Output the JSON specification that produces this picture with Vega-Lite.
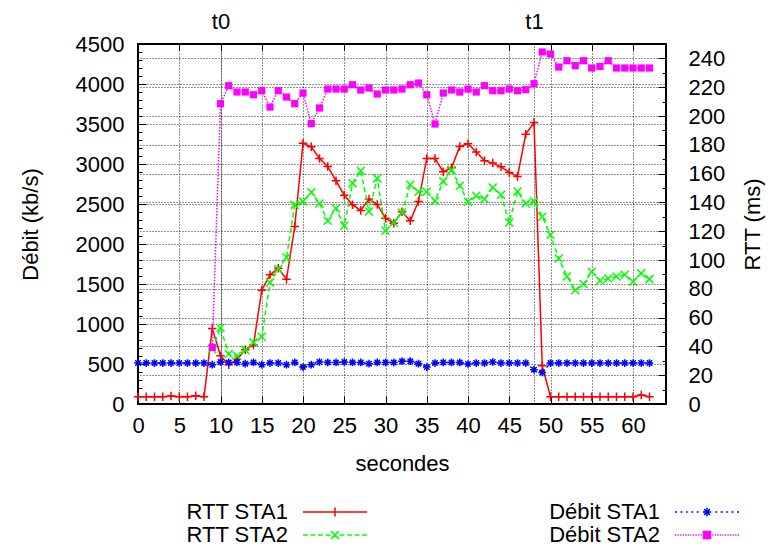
{
  "$schema": "https://vega.github.io/schema/vega-lite/v6.json",
  "width": 528,
  "height": 360,
  "autosize": {"type": "none"},
  "padding": {"left": 138, "top": 44, "right": 114, "bottom": 148},
  "background": "white",
  "datasets": {
    "d": [
      {"t":0,"s":"RTT STA1","v":5},{"t":1,"s":"RTT STA1","v":5},{"t":2,"s":"RTT STA1","v":5},{"t":3,"s":"RTT STA1","v":5},{"t":4,"s":"RTT STA1","v":5.5},{"t":5,"s":"RTT STA1","v":5},{"t":6,"s":"RTT STA1","v":5},{"t":7,"s":"RTT STA1","v":5.7},{"t":8,"s":"RTT STA1","v":5},{"t":9,"s":"RTT STA1","v":52.5},{"t":10,"s":"RTT STA1","v":33.5},{"t":11,"s":"RTT STA1","v":27.2},{"t":12,"s":"RTT STA1","v":31},{"t":13,"s":"RTT STA1","v":37.7},{"t":14,"s":"RTT STA1","v":41},{"t":15,"s":"RTT STA1","v":79},{"t":16,"s":"RTT STA1","v":89.7},{"t":17,"s":"RTT STA1","v":94.2},{"t":18,"s":"RTT STA1","v":86.7},{"t":19,"s":"RTT STA1","v":123.3},{"t":20,"s":"RTT STA1","v":181},{"t":21,"s":"RTT STA1","v":178.6},{"t":22,"s":"RTT STA1","v":170.5},{"t":23,"s":"RTT STA1","v":165},{"t":24,"s":"RTT STA1","v":155},{"t":25,"s":"RTT STA1","v":145},{"t":26,"s":"RTT STA1","v":138.3},{"t":27,"s":"RTT STA1","v":134.4},{"t":28,"s":"RTT STA1","v":142.3},{"t":29,"s":"RTT STA1","v":138.6},{"t":30,"s":"RTT STA1","v":129},{"t":31,"s":"RTT STA1","v":125.6},{"t":32,"s":"RTT STA1","v":133.5},{"t":33,"s":"RTT STA1","v":127.2},{"t":34,"s":"RTT STA1","v":140.7},{"t":35,"s":"RTT STA1","v":170.5},{"t":36,"s":"RTT STA1","v":170.5},{"t":37,"s":"RTT STA1","v":161.3},{"t":38,"s":"RTT STA1","v":164},{"t":39,"s":"RTT STA1","v":178.9},{"t":40,"s":"RTT STA1","v":180.7},{"t":41,"s":"RTT STA1","v":175},{"t":42,"s":"RTT STA1","v":169},{"t":43,"s":"RTT STA1","v":167.3},{"t":44,"s":"RTT STA1","v":164.7},{"t":45,"s":"RTT STA1","v":160.8},{"t":46,"s":"RTT STA1","v":158},{"t":47,"s":"RTT STA1","v":187.4},{"t":48,"s":"RTT STA1","v":195.5},{"t":49,"s":"RTT STA1","v":26.5},{"t":50,"s":"RTT STA1","v":5},{"t":51,"s":"RTT STA1","v":5},{"t":52,"s":"RTT STA1","v":5},{"t":53,"s":"RTT STA1","v":5},{"t":54,"s":"RTT STA1","v":5},{"t":55,"s":"RTT STA1","v":5},{"t":56,"s":"RTT STA1","v":5},{"t":57,"s":"RTT STA1","v":5},{"t":58,"s":"RTT STA1","v":5},{"t":59,"s":"RTT STA1","v":5},{"t":60,"s":"RTT STA1","v":5},{"t":61,"s":"RTT STA1","v":6.2},{"t":62,"s":"RTT STA1","v":5},
      {"t":9,"s":"RTT STA2","v":38},{"t":10,"s":"RTT STA2","v":53},{"t":11,"s":"RTT STA2","v":34.7},{"t":12,"s":"RTT STA2","v":33.5},{"t":13,"s":"RTT STA2","v":37.4},{"t":14,"s":"RTT STA2","v":42.8},{"t":15,"s":"RTT STA2","v":46.7},{"t":16,"s":"RTT STA2","v":84.4},{"t":17,"s":"RTT STA2","v":93.7},{"t":18,"s":"RTT STA2","v":101.8},{"t":19,"s":"RTT STA2","v":138.3},{"t":20,"s":"RTT STA2","v":140.7},{"t":21,"s":"RTT STA2","v":147},{"t":22,"s":"RTT STA2","v":139.3},{"t":23,"s":"RTT STA2","v":127.2},{"t":24,"s":"RTT STA2","v":135.8},{"t":25,"s":"RTT STA2","v":123.8},{"t":26,"s":"RTT STA2","v":153.2},{"t":27,"s":"RTT STA2","v":162},{"t":28,"s":"RTT STA2","v":133.7},{"t":29,"s":"RTT STA2","v":156.7},{"t":30,"s":"RTT STA2","v":120.3},{"t":31,"s":"RTT STA2","v":126.1},{"t":32,"s":"RTT STA2","v":133},{"t":33,"s":"RTT STA2","v":152.2},{"t":34,"s":"RTT STA2","v":147.4},{"t":35,"s":"RTT STA2","v":147.4},{"t":36,"s":"RTT STA2","v":141},{"t":37,"s":"RTT STA2","v":154.6},{"t":38,"s":"RTT STA2","v":162.6},{"t":39,"s":"RTT STA2","v":151.5},{"t":40,"s":"RTT STA2","v":140.4},{"t":41,"s":"RTT STA2","v":144.6},{"t":42,"s":"RTT STA2","v":142.3},{"t":43,"s":"RTT STA2","v":150.4},{"t":44,"s":"RTT STA2","v":145.3},{"t":45,"s":"RTT STA2","v":126.1},{"t":46,"s":"RTT STA2","v":147.6},{"t":47,"s":"RTT STA2","v":139.3},{"t":48,"s":"RTT STA2","v":140.7},{"t":49,"s":"RTT STA2","v":130},{"t":50,"s":"RTT STA2","v":117.5},{"t":51,"s":"RTT STA2","v":101},{"t":52,"s":"RTT STA2","v":88.6},{"t":53,"s":"RTT STA2","v":79},{"t":54,"s":"RTT STA2","v":83.3},{"t":55,"s":"RTT STA2","v":91.8},{"t":56,"s":"RTT STA2","v":85.6},{"t":57,"s":"RTT STA2","v":87.2},{"t":58,"s":"RTT STA2","v":88.6},{"t":59,"s":"RTT STA2","v":89.7},{"t":60,"s":"RTT STA2","v":84.9},{"t":61,"s":"RTT STA2","v":90.7},{"t":62,"s":"RTT STA2","v":86.7},
      {"t":0,"s":"Débit STA1","v":512},{"t":1,"s":"Débit STA1","v":512},{"t":2,"s":"Débit STA1","v":512},{"t":3,"s":"Débit STA1","v":512},{"t":4,"s":"Débit STA1","v":512},{"t":5,"s":"Débit STA1","v":512},{"t":6,"s":"Débit STA1","v":512},{"t":7,"s":"Débit STA1","v":512},{"t":8,"s":"Débit STA1","v":512},{"t":9,"s":"Débit STA1","v":491},{"t":10,"s":"Débit STA1","v":525},{"t":11,"s":"Débit STA1","v":520},{"t":12,"s":"Débit STA1","v":520},{"t":13,"s":"Débit STA1","v":504},{"t":14,"s":"Débit STA1","v":520},{"t":15,"s":"Débit STA1","v":491},{"t":16,"s":"Débit STA1","v":512},{"t":17,"s":"Débit STA1","v":512},{"t":18,"s":"Débit STA1","v":491},{"t":19,"s":"Débit STA1","v":520},{"t":20,"s":"Débit STA1","v":462},{"t":21,"s":"Débit STA1","v":491},{"t":22,"s":"Débit STA1","v":525},{"t":23,"s":"Débit STA1","v":520},{"t":24,"s":"Débit STA1","v":520},{"t":25,"s":"Débit STA1","v":525},{"t":26,"s":"Débit STA1","v":520},{"t":27,"s":"Débit STA1","v":520},{"t":28,"s":"Débit STA1","v":504},{"t":29,"s":"Débit STA1","v":520},{"t":30,"s":"Débit STA1","v":520},{"t":31,"s":"Débit STA1","v":520},{"t":32,"s":"Débit STA1","v":535},{"t":33,"s":"Débit STA1","v":535},{"t":34,"s":"Débit STA1","v":504},{"t":35,"s":"Débit STA1","v":462},{"t":36,"s":"Débit STA1","v":512},{"t":37,"s":"Débit STA1","v":520},{"t":38,"s":"Débit STA1","v":520},{"t":39,"s":"Débit STA1","v":520},{"t":40,"s":"Débit STA1","v":500},{"t":41,"s":"Débit STA1","v":512},{"t":42,"s":"Débit STA1","v":512},{"t":43,"s":"Débit STA1","v":525},{"t":44,"s":"Débit STA1","v":512},{"t":45,"s":"Débit STA1","v":512},{"t":46,"s":"Débit STA1","v":512},{"t":47,"s":"Débit STA1","v":512},{"t":48,"s":"Débit STA1","v":429},{"t":49,"s":"Débit STA1","v":395},{"t":50,"s":"Débit STA1","v":512},{"t":51,"s":"Débit STA1","v":512},{"t":52,"s":"Débit STA1","v":512},{"t":53,"s":"Débit STA1","v":512},{"t":54,"s":"Débit STA1","v":512},{"t":55,"s":"Débit STA1","v":512},{"t":56,"s":"Débit STA1","v":512},{"t":57,"s":"Débit STA1","v":512},{"t":58,"s":"Débit STA1","v":512},{"t":59,"s":"Débit STA1","v":512},{"t":60,"s":"Débit STA1","v":512},{"t":61,"s":"Débit STA1","v":512},{"t":62,"s":"Débit STA1","v":512},
      {"t":9,"s":"Débit STA2","v":708},{"t":10,"s":"Débit STA2","v":3754},{"t":11,"s":"Débit STA2","v":3979},{"t":12,"s":"Débit STA2","v":3900},{"t":13,"s":"Débit STA2","v":3900},{"t":14,"s":"Débit STA2","v":3866},{"t":15,"s":"Débit STA2","v":3916},{"t":16,"s":"Débit STA2","v":3712},{"t":17,"s":"Débit STA2","v":3916},{"t":18,"s":"Débit STA2","v":3837},{"t":19,"s":"Débit STA2","v":3754},{"t":20,"s":"Débit STA2","v":3887},{"t":21,"s":"Débit STA2","v":3504},{"t":22,"s":"Débit STA2","v":3700},{"t":23,"s":"Débit STA2","v":3937},{"t":24,"s":"Débit STA2","v":3937},{"t":25,"s":"Débit STA2","v":3937},{"t":26,"s":"Débit STA2","v":3991},{"t":27,"s":"Débit STA2","v":3925},{"t":28,"s":"Débit STA2","v":3950},{"t":29,"s":"Débit STA2","v":3875},{"t":30,"s":"Débit STA2","v":3925},{"t":31,"s":"Débit STA2","v":3925},{"t":32,"s":"Débit STA2","v":3937},{"t":33,"s":"Débit STA2","v":3991},{"t":34,"s":"Débit STA2","v":4012},{"t":35,"s":"Débit STA2","v":3866},{"t":36,"s":"Débit STA2","v":3500},{"t":37,"s":"Débit STA2","v":3887},{"t":38,"s":"Débit STA2","v":3925},{"t":39,"s":"Débit STA2","v":3900},{"t":40,"s":"Débit STA2","v":3937},{"t":41,"s":"Débit STA2","v":3900},{"t":42,"s":"Débit STA2","v":3979},{"t":43,"s":"Débit STA2","v":3916},{"t":44,"s":"Débit STA2","v":3916},{"t":45,"s":"Débit STA2","v":3937},{"t":46,"s":"Débit STA2","v":3916},{"t":47,"s":"Débit STA2","v":3929},{"t":48,"s":"Débit STA2","v":4004},{"t":49,"s":"Débit STA2","v":4400},{"t":50,"s":"Débit STA2","v":4375},{"t":51,"s":"Débit STA2","v":4212},{"t":52,"s":"Débit STA2","v":4291},{"t":53,"s":"Débit STA2","v":4229},{"t":54,"s":"Débit STA2","v":4291},{"t":55,"s":"Débit STA2","v":4200},{"t":56,"s":"Débit STA2","v":4220},{"t":57,"s":"Débit STA2","v":4291},{"t":58,"s":"Débit STA2","v":4200},{"t":59,"s":"Débit STA2","v":4200},{"t":60,"s":"Débit STA2","v":4200},{"t":61,"s":"Débit STA2","v":4200},{"t":62,"s":"Débit STA2","v":4200}
    ]
  },
  "data": {"name": "d"},
  "layer": [
    {
      "layer": [
        {
          "transform": [{"filter": "datum.s == 'RTT STA1'"}],
          "mark": {"type": "line", "color": "#ff0000", "strokeWidth": 1.5},
          "encoding": {
            "x": {"field": "t", "type": "quantitative", "scale": {"domain": [0, 64], "nice": false, "zero": false},
              "axis": {"orient": "bottom", "values": [0,5,10,15,20,25,30,35,40,45,50,55,60], "format": "d", "grid": true, "ticks": true, "tickSize": -8, "labelPadding": 19, "title": "secondes", "titleY": 59, "titleBaseline": "middle", "titleAlign": "center"}},
            "y": {"field": "v", "type": "quantitative", "scale": {"domain": [0, 250], "nice": false},
              "axis": {"orient": "right", "values": [0,20,40,60,80,100,120,140,160,180,200,220,240], "format": "d", "grid": true, "ticks": true, "tickSize": -8, "labelPadding": 30, "title": "RTT (ms)", "titleAngle": 270, "titleX": 86, "titleY": 180, "titleAlign": "center", "titleBaseline": "middle"}}
          }
        },
        {
          "transform": [{"filter": "datum.s == 'RTT STA1'"}],
          "mark": {"type": "point", "shape": "M-1,0H1M0,-1V1", "size": 72, "filled": false, "color": "#ff0000", "strokeWidth": 1.5, "opacity": 1},
          "encoding": {
            "x": {"field": "t", "type": "quantitative", "scale": {"domain": [0, 64], "nice": false, "zero": false},
              "axis": {"orient": "top", "values": [0,5,10,15,20,25,30,35,40,45,50,55,60], "labels": false, "grid": false, "ticks": true, "tickSize": -6, "title": null}},
            "y": {"field": "v", "type": "quantitative", "scale": {"domain": [0, 250], "nice": false},
              "axis": {"orient": "right", "values": [0,10,20,30,40,50,60,70,80,90,100,110,120,130,140,150,160,170,180,190,200,210,220,230,240,250], "labels": false, "grid": false, "ticks": true, "tickSize": -4, "title": null}}
          }
        },
        {
          "transform": [{"filter": "datum.s == 'RTT STA2'"}],
          "mark": {"type": "line", "color": "#00ff00", "strokeWidth": 1.5, "strokeDash": [5, 3]},
          "encoding": {
            "x": {"field": "t", "type": "quantitative", "scale": {"domain": [0, 64], "nice": false, "zero": false}, "axis": null},
            "y": {"field": "v", "type": "quantitative", "scale": {"domain": [0, 250], "nice": false}, "axis": null}
          }
        },
        {
          "transform": [{"filter": "datum.s == 'RTT STA2'"}],
          "mark": {"type": "point", "shape": "M-1,-1L1,1M-1,1L1,-1", "size": 64, "filled": false, "color": "#00ff00", "strokeWidth": 1.5, "opacity": 1},
          "encoding": {
            "x": {"field": "t", "type": "quantitative", "scale": {"domain": [0, 64], "nice": false, "zero": false}, "axis": null},
            "y": {"field": "v", "type": "quantitative", "scale": {"domain": [0, 250], "nice": false}, "axis": null}
          }
        }
      ],
      "resolve": {"axis": {"x": "independent", "y": "independent"}}
    },
    {
      "layer": [
        {
          "transform": [{"filter": "datum.s == 'Débit STA1'"}],
          "mark": {"type": "line", "color": "#0000ff", "strokeWidth": 1.5, "strokeDash": [2, 3]},
          "encoding": {
            "x": {"field": "t", "type": "quantitative", "scale": {"domain": [0, 64], "nice": false, "zero": false}, "axis": null},
            "y": {"field": "v", "type": "quantitative", "scale": {"domain": [0, 4500], "nice": false},
              "axis": {"orient": "left", "values": [0,500,1000,1500,2000,2500,3000,3500,4000,4500], "format": "d", "grid": true, "ticks": true, "tickSize": -8, "labelPadding": 22, "title": "Débit (kb/s)", "titleAngle": 270, "titleX": -108, "titleY": 180, "titleAlign": "center", "titleBaseline": "middle"}}
          }
        },
        {
          "transform": [{"filter": "datum.s == 'Débit STA1'"}],
          "mark": {"type": "point", "shape": "M-1,0H1M0,-1V1M-0.7,-0.7L0.7,0.7M-0.7,0.7L0.7,-0.7", "size": 60, "filled": false, "color": "#0000ff", "strokeWidth": 1.5, "opacity": 1},
          "encoding": {
            "x": {"field": "t", "type": "quantitative", "scale": {"domain": [0, 64], "nice": false, "zero": false}, "axis": null},
            "y": {"field": "v", "type": "quantitative", "scale": {"domain": [0, 4500], "nice": false},
              "axis": {"orient": "left", "values": [0,100,200,300,400,500,600,700,800,900,1000,1100,1200,1300,1400,1500,1600,1700,1800,1900,2000,2100,2200,2300,2400,2500,2600,2700,2800,2900,3000,3100,3200,3300,3400,3500,3600,3700,3800,3900,4000,4100,4200,4300,4400,4500], "labels": false, "grid": false, "ticks": true, "tickSize": -4, "title": null}}
          }
        },
        {
          "transform": [{"filter": "datum.s == 'Débit STA2'"}],
          "mark": {"type": "line", "color": "#ff00ff", "strokeWidth": 1.5, "strokeDash": [1.5, 1.5]},
          "encoding": {
            "x": {"field": "t", "type": "quantitative", "scale": {"domain": [0, 64], "nice": false, "zero": false}, "axis": null},
            "y": {"field": "v", "type": "quantitative", "scale": {"domain": [0, 4500], "nice": false}, "axis": null}
          }
        },
        {
          "transform": [{"filter": "datum.s == 'Débit STA2'"}],
          "mark": {"type": "point", "shape": "square", "size": 52, "filled": true, "color": "#ff00ff", "opacity": 1},
          "encoding": {
            "x": {"field": "t", "type": "quantitative", "scale": {"domain": [0, 64], "nice": false, "zero": false},
              "axis": {"orient": "top", "values": [10, 48], "labelExpr": "datum.value == 10 ? 't0' : 't1'", "grid": true, "ticks": false, "labelPadding": 11, "title": null}},
            "y": {"field": "v", "type": "quantitative", "scale": {"domain": [0, 4500], "nice": false}, "axis": null}
          }
        }
      ],
      "resolve": {"axis": {"x": "independent", "y": "independent"}}
    },
    {
      "transform": [{"filter": "false"}],
      "mark": {"type": "point", "filled": true, "opacity": 1, "strokeWidth": 1.5},
      "encoding": {
        "shape": {"field": "s", "type": "nominal",
          "scale": {"domain": ["RTT STA1", "RTT STA2", "Débit STA1", "Débit STA2"],
            "range": [
              "M-2.91,0H2.91M0,-0.41V0.41",
              "M-2.91,0H-2.47M-2.23,0H-1.79M-1.55,0H-1.11M-0.85,0H-0.42M0.42,0H0.85M1.11,0H1.55M1.79,0H2.23M2.47,0H2.91M-0.35,-0.35L0.35,0.35M-0.35,0.35L0.35,-0.35",
              "M-2.91,0H-2.73M-2.41,0H-2.24M-1.92,0H-1.75M-1.43,0H-1.25M-0.93,0H-0.76M0.76,0H0.93M1.25,0H1.43M1.75,0H1.92M2.24,0H2.41M2.73,0H2.91M-0.38,0H0.38M0,-0.38V0.38M-0.26,-0.26L0.26,0.26M-0.26,0.26L0.26,-0.26",
              "M-2.91,0H-2.79M-2.68,0H-2.56M-2.44,0H-2.33M-2.21,0H-2.09M-1.98,0H-1.86M-1.75,0H-1.63M-1.51,0H-1.4M-1.28,0H-1.16M-1.05,0H-0.93M-0.81,0H-0.7M-0.58,0H-0.47M0.47,0H0.58M0.7,0H0.81M0.93,0H1.05M1.16,0H1.28M1.4,0H1.51M1.63,0H1.75M1.86,0H1.98M2.09,0H2.21M2.33,0H2.44M2.56,0H2.68M2.79,0H2.91M-0.32,-0.32H0.32V0.32H-0.32Z"
            ]},
          "legend": {"title": null, "orient": "none", "legendX": 185, "legendY": 456, "columns": 2, "labelAlign": "right", "labelOffset": -59, "symbolSize": 484, "symbolStrokeWidth": 1.5, "symbolOpacity": 1, "labelFontSize": 22, "labelLimit": 400, "rowPadding": 0, "columnPadding": 178, "padding": 0, "gridAlign": "each"}},
        "fill": {"field": "s", "type": "nominal",
          "scale": {"domain": ["RTT STA1", "RTT STA2", "Débit STA1", "Débit STA2"], "range": ["#ff0000", "#00ff00", "#0000ff", "#ff00ff"]},
          "legend": {"title": null, "orient": "none", "legendX": 185, "legendY": 456, "columns": 2, "labelAlign": "right", "labelOffset": -59, "symbolSize": 484, "symbolStrokeWidth": 1.5, "symbolOpacity": 1, "labelFontSize": 22, "labelLimit": 400, "rowPadding": 0, "columnPadding": 178, "padding": 0, "gridAlign": "each"}},
        "stroke": {"field": "s", "type": "nominal",
          "scale": {"domain": ["RTT STA1", "RTT STA2", "Débit STA1", "Débit STA2"], "range": ["#ff0000", "#00ff00", "#0000ff", "#ff00ff"]},
          "legend": {"title": null, "orient": "none", "legendX": 185, "legendY": 456, "columns": 2, "labelAlign": "right", "labelOffset": -59, "symbolSize": 484, "symbolStrokeWidth": 1.5, "symbolOpacity": 1, "labelFontSize": 22, "labelLimit": 400, "rowPadding": 0, "columnPadding": 178, "padding": 0, "gridAlign": "each"}}
      }
    }
  ],
  "resolve": {"scale": {"y": "independent"}, "axis": {"x": "independent", "y": "independent"}},
  "config": {
    "font": "Liberation Sans",
    "view": {"stroke": "#000000", "strokeWidth": 2},
    "axis": {"domain": false, "labelFontSize": 22, "titleFontSize": 22, "labelFont": "Liberation Sans", "titleFont": "Liberation Sans", "labelColor": "#000000", "titleColor": "#000000", "titleFontWeight": "normal", "gridColor": "#000000", "gridDash": [1, 2], "gridOpacity": 0.85, "gridWidth": 1, "tickColor": "#000000", "tickWidth": 1, "labelFlush": false, "labelOverlap": false},
    "legend": {"labelFont": "Liberation Sans", "labelColor": "#000000"}
  }
}
